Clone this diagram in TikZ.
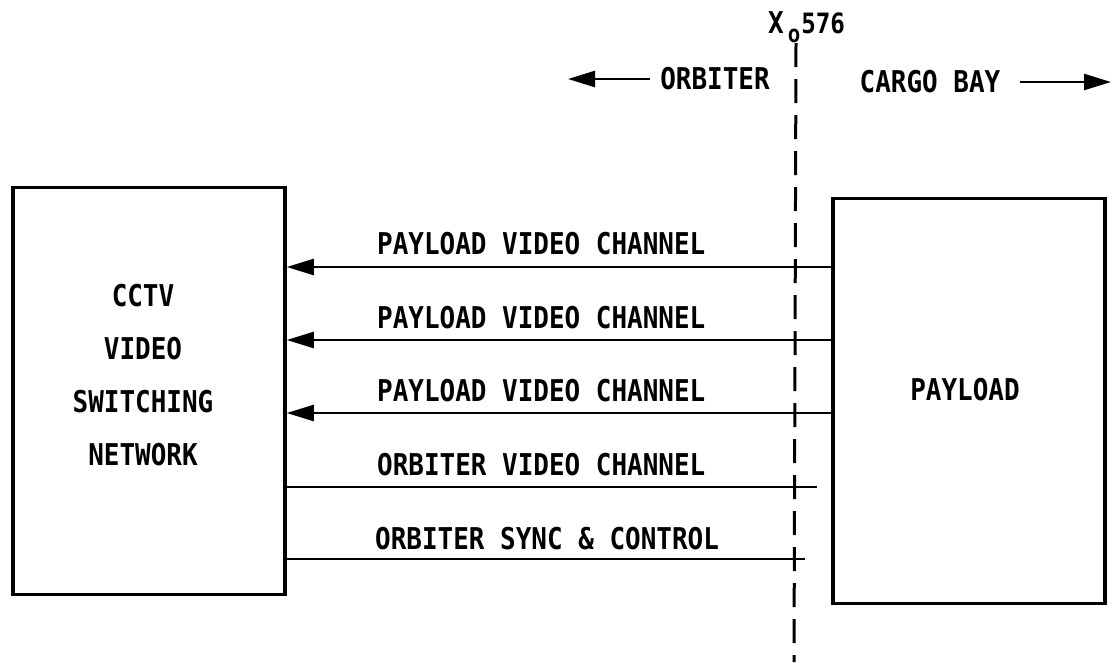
\documentclass[tikz,border=0pt]{standalone}
\usepackage{fontspec}
\setmonofont[FakeStretch=0.865]{DejaVu Sans Mono}
\usepackage{tikz}
\usetikzlibrary{arrows.meta,positioning,calc}

\begin{document}
\begin{tikzpicture}[
  x=1pt,y=-1pt,
  font=\ttfamily\bfseries\fontsize{30}{53}\selectfont,
  box/.style={draw,line width=3.5pt,inner sep=0pt},
  chan/.style={line width=2.5pt},
  arr/.style={chan,-{Triangle[length=27pt,width=16pt]}},
  lbl/.style={anchor=west,inner sep=0pt}
]
\useasboundingbox (0,0) rectangle (1113,662);
\node[box,minimum width=272pt,minimum height=407pt] (cctv) at (149,391) {};
\node[align=center,inner sep=0pt] (cctvtext) at (143,375) {CCTV\\VIDEO\\SWITCHING\\NETWORK};
\node[box,minimum width=272pt,minimum height=405pt] (payload) at (969,401) {};
\node[inner sep=0pt] (payloadtext) at (965,390) {PAYLOAD};
% X_o 576 station line
\node[anchor=base west,inner sep=0pt] (station) at (768,33)
  {X\kern4pt\raisebox{-9pt}{\fontsize{24}{24}\selectfont o}\kern1pt\fontsize{28}{28}\selectfont576};
\coordinate (linetop) at (796,43);
\coordinate (linebot) at (794,662);
\draw[line width=3pt,dash pattern=on 24pt off 12pt] (linetop) -- (linebot);
\node[inner sep=0pt] (orbiter) at (715,79) {ORBITER};
\node[inner sep=0pt] (cargo) at (930,82) {CARGO BAY};
\coordinate (orbend) at (568,79);
\coordinate (cargoend) at (1111,82);
\draw[arr] ([xshift=-10pt]orbiter.west) -- (orbend);
\draw[arr] ([xshift=19pt]cargo.east) -- (cargoend);
% channels
\draw[arr] (payload.west |- 0,267) -- (cctv.east |- 0,267);
\draw[arr] (payload.west |- 0,340) -- (cctv.east |- 0,340);
\draw[arr] (payload.west |- 0,413) -- (cctv.east |- 0,413);
\coordinate (ovend) at (817,487);
\coordinate (scend) at (805,559);
\draw[chan] (cctv.east |- ovend) -- (ovend);
\draw[chan] (cctv.east |- scend) -- (scend);
\node[lbl] (pv1) at (377,244) {PAYLOAD VIDEO CHANNEL};
\node[lbl] (pv2) at (377,318) {PAYLOAD VIDEO CHANNEL};
\node[lbl] (pv3) at (377,391) {PAYLOAD VIDEO CHANNEL};
\node[lbl] (ov) at (377,465) {ORBITER VIDEO CHANNEL};
\node[lbl] (sc) at (375,539) {ORBITER SYNC \& CONTROL};
\end{tikzpicture}
\end{document}
